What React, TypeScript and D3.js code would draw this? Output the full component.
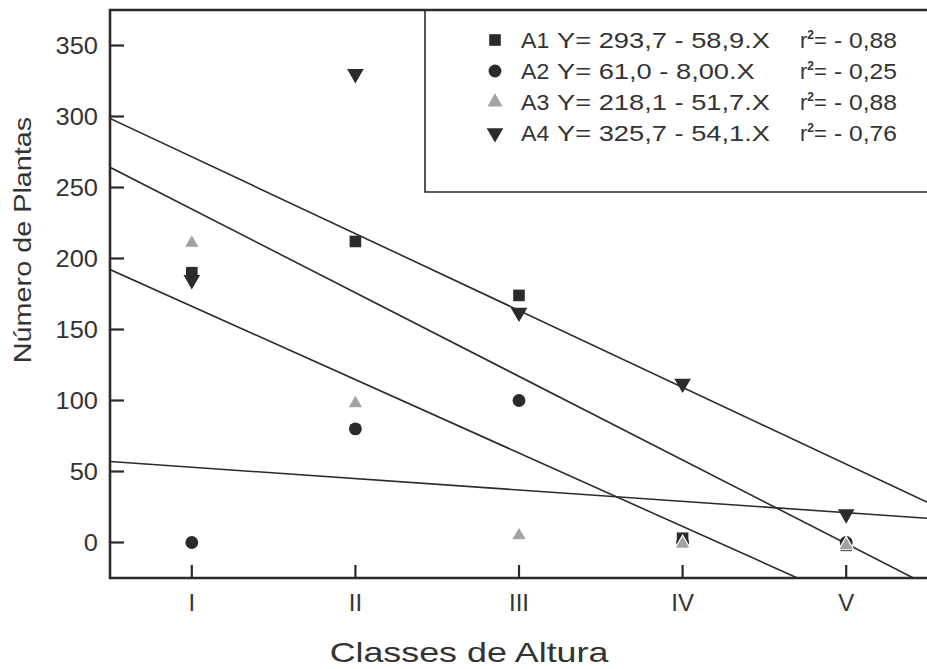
import React from "react";
import * as d3 from "d3";

// ---- data ----
const classes = [1, 2, 3, 4, 5];
const classLabels = ["I", "II", "III", "IV", "V"];
const yTicks = [0, 50, 100, 150, 200, 250, 300, 350];

const seriesNames = ["A1", "A2", "A3", "A4"];
const a1Values = [190, 212, 174, 3, -2];
const a2Values = [0, 80, 100, 0, 0];
const a3Values = [211, 98, 5, -1, -2];
const a4Values = [185, 330, 162, 112, 20];

const intercepts = [293.7, 61.0, 218.1, 325.7];
const slopes = [-58.9, -8.0, -51.7, -54.1];
const equations = [
  "Y= 293,7 - 58,9.X",
  "Y= 61,0 - 8,00.X",
  "Y= 218,1 - 51,7.X",
  "Y= 325,7 - 54,1.X",
];
const r2Values = ["- 0,88", "- 0,25", "- 0,88", "- 0,76"];

const W = 927;
const H = 669;
const left = 110;
const right = 928;
const top = 10;
const bottom = 578;

const x = d3.scaleLinear().domain([0.5, 5.5]).range([left, right]);
const y = d3.scaleLinear().domain([-25, 375]).range([bottom, top]);

const dark = "#2b2b2b";
const gray = "#a3a3a3";
const textColor = "#333";
const font = "'Liberation Sans', Arial, Helvetica, sans-serif";

const symSquare = d3.symbol().type(d3.symbolSquare).size(135)()!;
const symCircle = d3.symbol().type(d3.symbolCircle).size(130)()!;
const symTri = d3.symbol().type(d3.symbolTriangle).size(100)()!;
const symTriDown = d3.symbol().type(d3.symbolTriangle).size(120)()!;

const markerDefs = [
  { d: symSquare, fill: dark, rot: 0, stroke: "none" },
  { d: symCircle, fill: dark, rot: 0, stroke: "none" },
  { d: symTri, fill: gray, rot: 0, stroke: "#fff" },
  { d: symTriDown, fill: dark, rot: 180, stroke: "none" },
];

const allValues = [a1Values, a2Values, a3Values, a4Values];
// drawing order: A2 beneath, then A1, A3, A4
const drawOrder = [1, 0, 2, 3];

const legendRows = [40, 71, 102, 133];

export default function App() {
  return (
    <svg width={W} height={H} style={{ display: "block", position: "absolute", left: 0, top: 0, background: "#fff" }}>
      <defs>
        <clipPath id="plotClip">
          <rect x={left} y={top} width={right - left} height={bottom - top} />
        </clipPath>
      </defs>
      <rect x={0} y={0} width={W} height={H} fill="#fff" />

      {/* regression lines */}
      <g clipPath="url(#plotClip)">
        {intercepts.map((b, i) => {
          const gen = d3
            .line<number>()
            .x((d) => x(d))
            .y((d) => y(b + slopes[i] * d));
          return <path key={i} d={gen(x.domain())!} fill="none" stroke={dark} strokeWidth={1.6} />;
        })}
      </g>

      {/* legend box */}
      <path d={`M${right + 10},192 H425 V${top}`} fill="none" stroke={dark} strokeWidth={1.6} />

      {/* points */}
      <g>
        {drawOrder.map((si) => {
          const m = markerDefs[si];
          return allValues[si].map((v, j) => (
            <path
              key={`${si}-${j}`}
              d={m.d}
              transform={`translate(${x(classes[j])},${y(v)}) rotate(${m.rot})`}
              fill={m.fill}
              stroke={m.stroke}
              strokeWidth={m.stroke === "none" ? 0 : 1.2}
            />
          ));
        })}
      </g>

      {/* axes frame */}
      <path d={`M${right},${top} H${left} V${bottom} H${right}`} fill="none" stroke={dark} strokeWidth={2.6} />

      {/* y ticks */}
      {yTicks.map((t) => (
        <g key={t}>
          <line x1={left} x2={left + 14} y1={y(t)} y2={y(t)} stroke={dark} strokeWidth={2.2} />
          <text
            transform={`translate(${left - 12},${y(t)}) scale(1.06,1)`}
            dy="0.36em"
            textAnchor="end"
            fontFamily={font}
            fontSize={24}
            fill={textColor}
          >
            {t}
          </text>
        </g>
      ))}

      {/* x ticks */}
      {classes.map((c, i) => (
        <g key={c}>
          <line x1={x(c)} x2={x(c)} y1={bottom} y2={bottom - 13} stroke={dark} strokeWidth={2.2} />
          <text x={x(c)} y={611} textAnchor="middle" fontFamily={font} fontSize={24} fill={textColor}>
            {classLabels[i]}
          </text>
        </g>
      ))}

      {/* axis titles */}
      <text
        transform={`translate(469,662) scale(1.28,1)`}
        textAnchor="middle"
        fontFamily={font}
        fontSize={28}
        fill={textColor}
      >
        Classes de Altura
      </text>
      <text
        transform={`translate(31,240) rotate(-90) scale(1.2,1)`}
        textAnchor="middle"
        fontFamily={font}
        fontSize={24}
        fill={textColor}
      >
        Número de Plantas
      </text>

      {/* legend entries */}
      {seriesNames.map((name, i) => {
        const m = markerDefs[i];
        const ry = legendRows[i];
        return (
          <g key={name}>
            <path d={m.d} transform={`translate(495,${ry}) rotate(${m.rot})`} fill={m.fill} />
            <text
              transform={`translate(521,${ry}) scale(1.05,1)`}
              dy="0.36em"
              fontFamily={font}
              fontSize={22}
              fill={textColor}
            >
              {name}
            </text>
            <text
              transform={`translate(557,${ry}) scale(1.24,1)`}
              dy="0.36em"
              fontFamily={font}
              fontSize={22}
              fill={textColor}
            >
              {equations[i]}
            </text>
            <text x={800} y={ry} dy="0.36em" fontFamily={font} fontSize={22} fill={textColor}>
              r<tspan dy={-9} fontSize={12} fontWeight="bold">2</tspan>
              <tspan dy={9}>=</tspan>
            </text>
            <text
              transform={`translate(834,${ry}) scale(1.12,1)`}
              dy="0.36em"
              fontFamily={font}
              fontSize={22}
              fill={textColor}
            >
              {r2Values[i]}
            </text>
          </g>
        );
      })}
    </svg>
  );
}
